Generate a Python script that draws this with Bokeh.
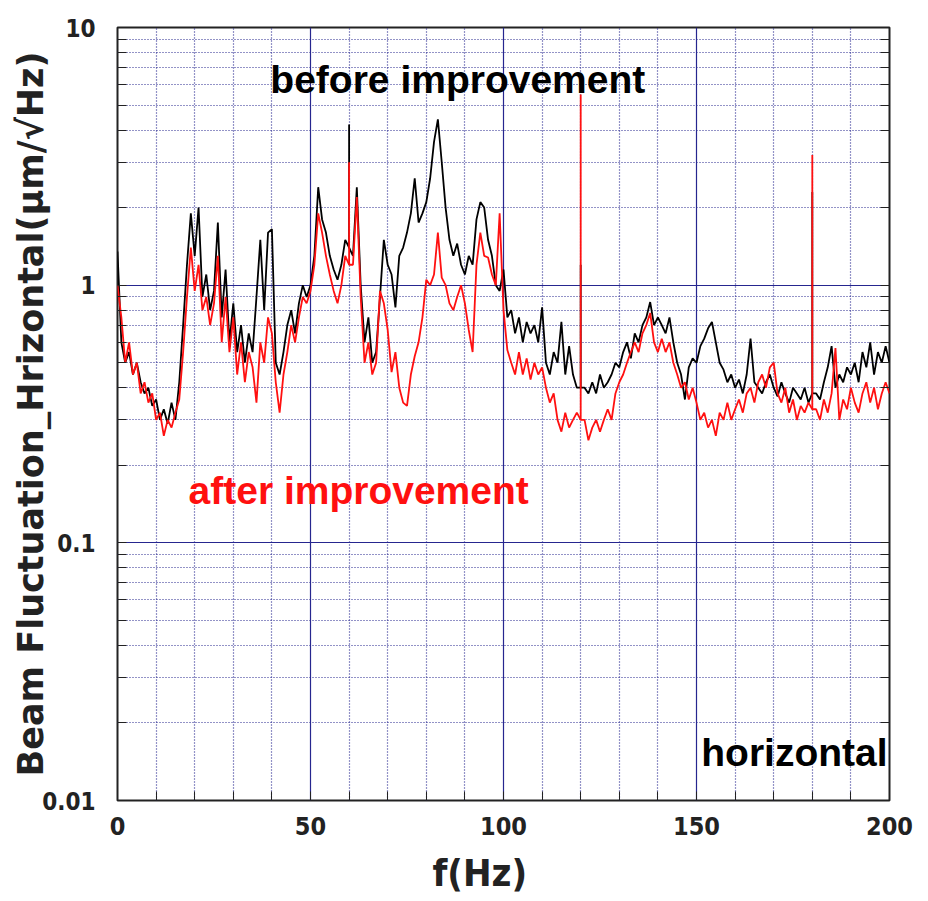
from bokeh.plotting import figure
from bokeh.models import (FixedTicker, Grid, LogAxis, CustomJSTickFormatter, Label, Range1d)
from bokeh.embed import file_html
from bokeh.resources import INLINE

# ---------------- data ----------------
freq = list(range(0, 201))

before = [
    1.35, 0.6, 0.5, 0.55, 0.45, 0.5, 0.42, 0.38, 0.4, 0.34,
    0.36, 0.3, 0.33, 0.29, 0.35, 0.3, 0.42, 0.7, 1.2, 1.9,
    1.3, 2.0, 0.9, 1.1, 0.8, 0.95, 1.75, 0.75, 1.15, 0.6,
    0.85, 0.55, 0.7, 0.5, 0.65, 0.55, 0.9, 1.5, 0.8, 1.6,
    1.65, 0.5, 0.45, 0.55, 0.7, 0.8, 0.65, 0.85, 1.0, 0.9,
    1.0, 1.3, 2.4, 1.8, 1.6, 1.3, 1.15, 1.05, 1.2, 1.5,
    1.4, 1.3, 2.4, 1.0, 0.6, 0.75, 0.5, 0.55, 0.9, 1.5,
    1.2, 1.1, 0.82, 1.3, 1.4, 1.6, 1.9, 2.6, 1.75, 1.9,
    2.1, 2.6, 3.6, 4.4, 3.0, 2.0, 1.5, 1.3, 1.45, 1.2,
    1.1, 1.3, 1.2, 1.8, 2.1, 2.0, 1.5, 1.3, 1.0, 0.95,
    1.15, 0.75, 0.8, 0.65, 0.75, 0.6, 0.72, 0.65, 0.7, 0.6,
    0.82, 0.5, 0.45, 0.55, 0.5, 0.72, 0.45, 0.58, 0.45, 0.4,
    0.4, 0.4, 0.38, 0.42, 0.38, 0.45, 0.4, 0.42, 0.45, 0.5,
    0.48, 0.55, 0.6, 0.52, 0.65, 0.6, 0.7, 0.75, 0.86, 0.7,
    0.75, 0.7, 0.65, 0.75, 0.6, 0.5, 0.45, 0.36, 0.48, 0.52,
    0.5, 0.58, 0.62, 0.68, 0.72, 0.6, 0.5, 0.47, 0.42, 0.45,
    0.4, 0.43, 0.38, 0.45, 0.62, 0.42, 0.4, 0.38, 0.42, 0.45,
    0.4, 0.37, 0.42, 0.38, 0.35, 0.4, 0.38, 0.36, 0.4, 0.35,
    0.38, 0.38, 0.36, 0.42, 0.48, 0.58, 0.4, 0.45, 0.42, 0.48,
    0.45, 0.5, 0.42, 0.55, 0.48, 0.6, 0.45, 0.55, 0.5, 0.58,
    0.5,
]

after = [
    1.0, 0.75, 0.5, 0.6, 0.45, 0.5, 0.38, 0.42, 0.35, 0.38,
    0.3, 0.32, 0.26, 0.3, 0.28, 0.32, 0.36, 0.55, 0.9, 1.4,
    0.95, 1.2, 0.8, 0.9, 0.7, 0.85, 1.3, 0.6, 0.9, 0.55,
    0.75, 0.45, 0.6, 0.42, 0.55, 0.48, 0.35, 0.6, 0.5, 0.75,
    0.65, 0.42, 0.32, 0.45, 0.55, 0.7, 0.6, 0.75, 0.9, 0.85,
    0.95, 1.2, 1.9, 1.6, 1.3, 1.1, 0.95, 0.85, 1.0, 1.3,
    1.2, 1.2, 2.2, 0.9, 0.5, 0.6, 0.45, 0.5, 0.95, 0.85,
    0.67, 0.46, 0.55, 0.4, 0.35, 0.34, 0.45, 0.53, 0.6, 0.75,
    1.05, 1.0, 1.1, 1.6, 1.07, 1.0, 0.85, 0.8, 0.9, 1.0,
    0.85, 0.67, 0.55, 1.2, 1.6, 1.3, 1.28, 1.1, 1.0, 1.9,
    0.8, 0.56, 0.5, 0.45, 0.55, 0.45, 0.52, 0.43, 0.5, 0.45,
    0.48, 0.4, 0.35, 0.38, 0.3, 0.27, 0.32, 0.28, 0.3, 0.32,
    0.3, 0.3, 0.25, 0.28, 0.3, 0.27, 0.3, 0.33, 0.3, 0.38,
    0.42, 0.45, 0.5, 0.55, 0.6, 0.55, 0.65, 0.7, 0.78, 0.6,
    0.55, 0.62, 0.55, 0.6, 0.5, 0.45, 0.4, 0.42, 0.36, 0.4,
    0.35, 0.3, 0.32, 0.28, 0.3, 0.26, 0.32, 0.3, 0.35, 0.3,
    0.33, 0.36, 0.32, 0.38, 0.4, 0.35, 0.42, 0.45, 0.4, 0.48,
    0.5, 0.38, 0.35, 0.4, 0.32, 0.36, 0.3, 0.34, 0.32, 0.35,
    0.33, 0.33, 0.3, 0.36, 0.32, 0.38, 0.57, 0.3, 0.36, 0.33,
    0.4, 0.35, 0.32, 0.38, 0.42, 0.35, 0.4, 0.33, 0.38, 0.42,
    0.38,
]

spike_freq = [60, 120, 180]
before_spike_top = [4.2, 1.2, 2.3]
after_spike_top = [3.0, 5.5, 3.2]

x_ticks = [0, 50, 100, 150, 200]
x_minor = [10, 20, 30, 40, 60, 70, 80, 90, 110, 120, 130, 140, 160, 170, 180, 190]
y_ticks = [0.01, 0.1, 1, 10]
y_minor = [0.02, 0.03, 0.04, 0.05, 0.06, 0.07, 0.08, 0.09,
           0.2, 0.3, 0.4, 0.5, 0.6, 0.7, 0.8, 0.9,
           2, 3, 4, 5, 6, 7, 8, 9]

# ---------------- figure ----------------
GRID = "#26268f"
NARROW = "'Liberation Sans Narrow', 'DejaVu Sans Condensed', 'Liberation Sans', sans-serif"

p = figure(frame_width=772, frame_height=773, x_range=Range1d(0, 200), y_range=Range1d(0.01, 10),
           y_axis_type="log", output_backend="svg", toolbar_location=None,
           min_border_left=117, min_border_right=29, min_border_top=27, min_border_bottom=60)
p.background_fill_color = "white"
p.border_fill_color = "white"
p.outline_line_color = "#222222"
p.outline_line_width = 2

# grids
p.xgrid.ticker = FixedTicker(ticks=[50, 100, 150])
p.xgrid.grid_line_color = GRID
p.xgrid.grid_line_width = 1.2
p.ygrid.ticker = FixedTicker(ticks=[0.1, 1])
p.ygrid.grid_line_color = GRID
p.ygrid.grid_line_width = 1.2
p.add_layout(Grid(dimension=0, ticker=FixedTicker(ticks=x_minor),
                  grid_line_color=GRID, grid_line_dash="1 2", grid_line_width=1.2))
p.add_layout(Grid(dimension=1, ticker=FixedTicker(ticks=y_minor),
                  grid_line_color=GRID, grid_line_dash="1 2", grid_line_width=1.2))

# x axis
xa = p.xaxis[0]
xa.ticker = FixedTicker(ticks=x_ticks, minor_ticks=x_minor)
xa.axis_line_color = None
xa.major_tick_in = 9
xa.major_tick_out = 0
xa.minor_tick_in = 9
xa.minor_tick_out = 0
xa.major_tick_line_color = "#222222"
xa.minor_tick_line_color = "#222222"
xa.major_label_text_font = NARROW
xa.major_label_text_font_size = "25px"
xa.major_label_text_font_style = "bold"
xa.major_label_text_color = "#222222"
xa.major_label_standoff = 16
# trailing no-break spaces shift the visible title slightly left of centre, as in the original
xa.axis_label = "f(Hz)\u00a0\u00a0\u00a0\u00a0"
xa.axis_label_text_font = NARROW
xa.axis_label_text_font_size = "38px"
xa.axis_label_text_font_style = "bold"
xa.axis_label_text_color = "#222222"
xa.axis_label_standoff = 13

# y axis
ya = p.yaxis[0]
ya.ticker = FixedTicker(ticks=y_ticks, minor_ticks=y_minor)
ya.formatter = CustomJSTickFormatter(code="return tick.toString();")
ya.axis_line_color = None
ya.major_tick_in = 9
ya.major_tick_out = 0
ya.minor_tick_in = 9
ya.minor_tick_out = 0
ya.major_tick_line_color = "#222222"
ya.minor_tick_line_color = "#222222"
ya.major_label_text_font = NARROW
ya.major_label_text_font_size = "24px"
ya.major_label_text_font_style = "bold"
ya.major_label_text_color = "#222222"
ya.major_label_standoff = 22
ya.axis_label = "Beam Fluctuation_Hrizontal(\u03bcm/\u221aHz)"
ya.axis_label_text_font = "DejaVu Sans"
ya.axis_label_text_font_size = "35px"
ya.axis_label_text_font_style = "bold"
ya.axis_label_text_color = "#222222"
ya.axis_label_standoff = -12

# right axis with inward ticks only (labels invisible)
ra = LogAxis(ticker=FixedTicker(ticks=y_ticks, minor_ticks=y_minor),
             axis_line_color=None, major_tick_in=9, major_tick_out=0,
             minor_tick_in=9, minor_tick_out=0,
             major_tick_line_color="#222222", minor_tick_line_color="#222222",
             major_label_text_font_size="6px", major_label_text_alpha=0.0,
             major_label_standoff=0)
p.add_layout(ra, "right")

# data
p.line(freq, before, line_color="black", line_width=1.8)
p.segment(x0=spike_freq, y0=[before[f] for f in spike_freq], x1=spike_freq, y1=before_spike_top,
          line_color="black", line_width=1.8)
p.line(freq, after, line_color="#ff1010", line_width=1.8)
p.segment(x0=spike_freq, y0=[after[f] for f in spike_freq], x1=spike_freq, y1=after_spike_top,
          line_color="#ff1010", line_width=1.8)

# annotations
ANN = "Liberation Sans"
p.add_layout(Label(x=39.6, y=6.3, text="before improvement", text_font=ANN,
                   text_font_size="39px", text_font_style="bold", text_color="black",
                   text_baseline="alphabetic"))
p.add_layout(Label(x=18.4, y=0.159, text="after improvement", text_font=ANN,
                   text_font_size="39px", text_font_style="bold", text_color="#ff1010",
                   text_baseline="alphabetic"))
p.add_layout(Label(x=199.5, y=0.0153, text="horizontal", text_font=ANN,
                   text_font_size="39px", text_font_style="bold", text_color="black",
                   text_align="right", text_baseline="alphabetic"))

open("out.html", "w").write(file_html(p, INLINE))
